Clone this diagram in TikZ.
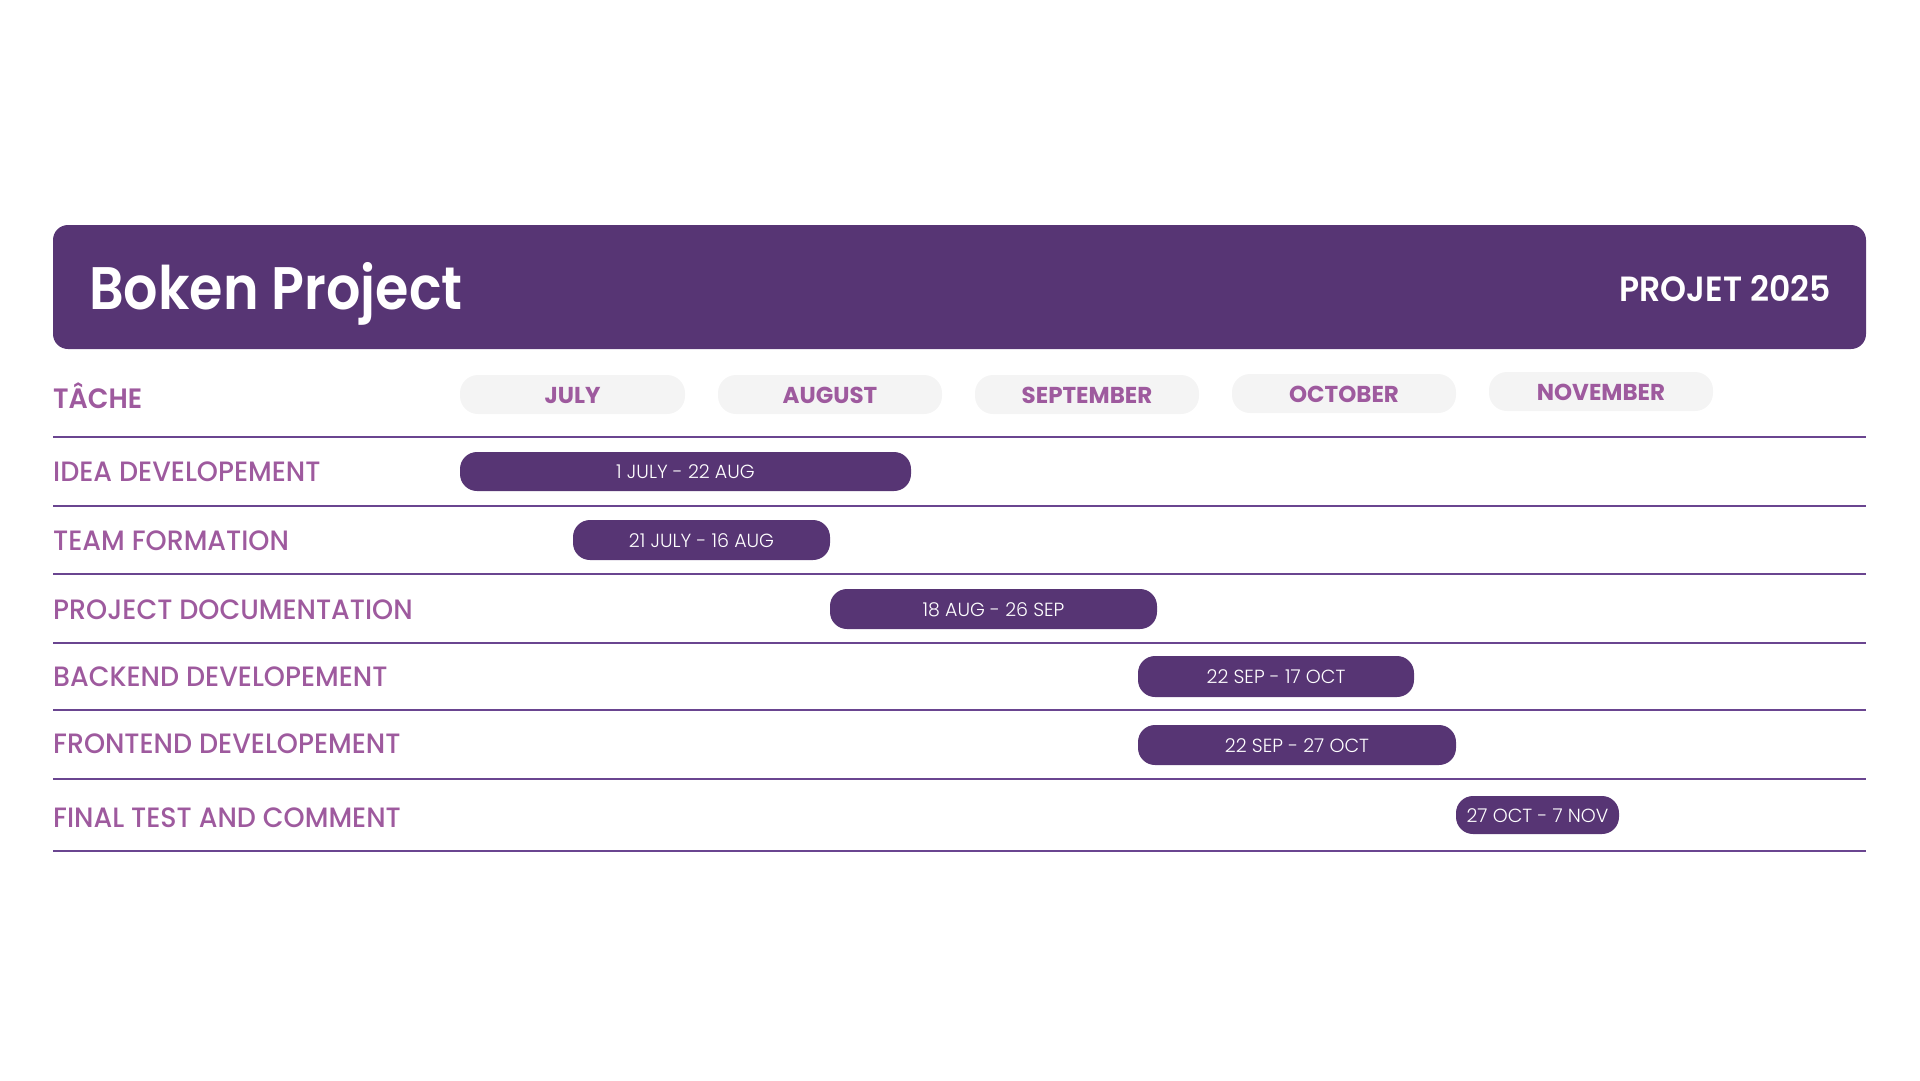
\documentclass[tikz,border=0pt]{standalone}
\usepackage{fontspec}
\setmainfont{Poppins}
\newfontfamily\titlefont{Poppins SemiBold}[FakeStretch=0.9]
\newfontfamily\yearfont{Poppins SemiBold}[FakeStretch=0.945]
\newfontfamily\semifont{Poppins SemiBold}[FakeStretch=0.96]
\newfontfamily\medfont{Poppins Medium}[FakeStretch=0.96]
\newfontfamily\lightfont{Poppins Light}
\definecolor{hdr}{HTML}{573574}
\definecolor{lbl}{HTML}{9E5A9E}
\definecolor{rule}{HTML}{6A4590}
\definecolor{pill}{HTML}{F4F4F4}
\tikzset{
  bar/.style={fill=hdr, rounded corners=17pt},
  monthpill/.style={fill=pill, rounded corners=18pt},
  bartext/.style={anchor=base, inner sep=0pt, text=white, font=\fontsize{19}{19}\lightfont},
  monthtext/.style={anchor=base, inner sep=0pt, text=lbl, font=\fontsize{23}{23}\selectfont\bfseries},
  rowtext/.style={anchor=base west, inner sep=0pt, text=lbl, font=\fontsize{28}{28}\medfont},
  sep/.style={draw=rule, line width=2.2pt},
}
\begin{document}
\begin{tikzpicture}[x=1pt,y=-1pt]
\useasboundingbox (0,0) rectangle (1920,1080);
% header
\fill[hdr, rounded corners=15pt] (53,225) rectangle (1866,349);
\node[anchor=base west, inner sep=0pt, text=white, font=\fontsize{60}{60}\titlefont] (title) at (89,309) {Boken Project};
\node[anchor=base east, inner sep=0pt, text=white, font=\fontsize{35}{35}\yearfont] (year) at (1831,301) {PROJET 2025};
% header row
\node[anchor=base west, inner sep=0pt, text=lbl, font=\fontsize{28}{28}\semifont] (tache) at (53,408) {TÂCHE};
\fill[monthpill] (460,375) rectangle (685,414);
\node[monthtext] (jul) at (572.5,403) {JULY};
\fill[monthpill] (718,375) rectangle (942,414);
\node[monthtext] (aug) at (830,403) {AUGUST};
\fill[monthpill] (975,375) rectangle (1199,414);
\node[monthtext] (sep) at (1087,403) {SEPTEMBER};
\fill[monthpill] (1232,374) rectangle (1456,413);
\node[monthtext] (oct) at (1344,402) {OCTOBER};
\fill[monthpill] (1489,372) rectangle (1713,411);
\node[monthtext] (nov) at (1601,400) {NOVEMBER};
% rules
\foreach \y in {437,506,574,643,710,779,851} {
  \draw[sep] (53,\y) -- (1866,\y);
}
% rows
\node[rowtext] (r1) at (53,481) {IDEA DEVELOPEMENT};
\node[rowtext] (r2) at (53,550) {TEAM FORMATION};
\node[rowtext] (r3) at (53,619) {PROJECT DOCUMENTATION};
\node[rowtext] (r4) at (53,686) {BACKEND DEVELOPEMENT};
\node[rowtext] (r5) at (53,753) {FRONTEND DEVELOPEMENT};
\node[rowtext] (r6) at (53,827) {FINAL TEST AND COMMENT};
% bars
\fill[bar] (460,452) rectangle (911,491);
\node[bartext] (b1) at (685.5,478.5) {1 JULY - 22 AUG};
\fill[bar] (573,520) rectangle (830,560);
\node[bartext] (b2) at (701.5,547) {21 JULY - 16 AUG};
\fill[bar] (830,589) rectangle (1157,629);
\node[bartext] (b3) at (993.5,616) {18 AUG - 26 SEP};
\fill[bar] (1138,656) rectangle (1414,697);
\node[bartext] (b4) at (1276,683.5) {22 SEP - 17 OCT};
\fill[bar] (1138,725) rectangle (1456,765);
\node[bartext] (b5) at (1297,752) {22 SEP - 27 OCT};
\fill[bar] (1456,796) rectangle (1619,834);
\node[bartext] (b6) at (1537.5,822) {27 OCT - 7 NOV};
\end{tikzpicture}
\end{document}
